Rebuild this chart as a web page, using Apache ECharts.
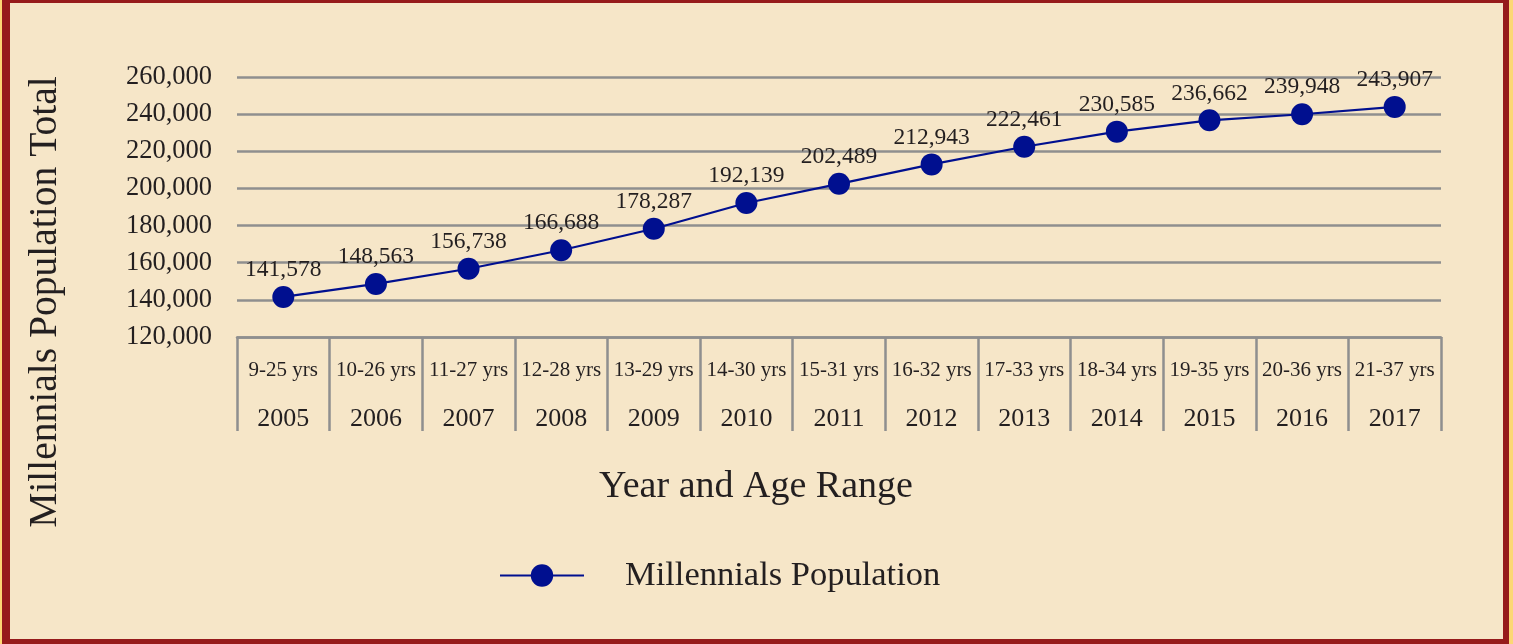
<!DOCTYPE html>
<html>
<head>
<meta charset="utf-8">
<script src="https://cdn.jsdelivr.net/npm/echarts@6/dist/echarts.min.js"></script>
<style>
html,body{margin:0;padding:0;width:1513px;height:644px;overflow:hidden;background:#fcd774;}
#frame{position:absolute;left:2px;top:0;width:1507px;height:644px;box-sizing:border-box;
  border-style:solid;border-color:#961b1b;border-width:3px 6px 5px 8px;background:#f6e6c8;}
#chart{position:absolute;left:0;top:0;width:1513px;height:644px;}
</style>
</head>
<body>
<div id="frame"></div>
<div id="chart"></div>
<script>
var years = ['2005','2006','2007','2008','2009','2010','2011','2012','2013','2014','2015','2016','2017'];
var ageRanges = ['9-25 yrs','10-26 yrs','11-27 yrs','12-28 yrs','13-29 yrs','14-30 yrs','15-31 yrs','16-32 yrs','17-33 yrs','18-34 yrs','19-35 yrs','20-36 yrs','21-37 yrs'];
var population = [141578,148563,156738,166688,178287,192139,202489,212943,222461,230585,236662,239948,243907];
var yTicks = {min:120000, max:260000, interval:20000};

var FONT = '"Liberation Serif", "DejaVu Serif", serif';
var TXT = '#231f20';
var GRAY = '#8f8f8f';
var BLUE = '#000f8f';

var categories = years.map(function(y,i){ return ageRanges[i] + '|' + y; });

var chart = echarts.init(document.getElementById('chart'));
chart.setOption({
  backgroundColor: 'transparent',
  textStyle: {fontFamily: FONT},
  grid: {left: 237, right: 72, top: 77, bottom: 307, containLabel: false, outerBoundsMode: 'none'},
  xAxis: {
    type: 'category',
    data: categories,
    boundaryGap: true,
    name: 'Year and Age Range',
    nameLocation: 'middle',
    nameGap: 131,
    nameTextStyle: {fontFamily: FONT, fontSize: 38, color: TXT, padding: [0, 166, 0, 0]},
    axisLine: {show: true, lineStyle: {color: GRAY, width: 2.5}},
    axisTick: {show: true, interval: 0, length: 94, lineStyle: {color: GRAY, width: 2.5}},
    axisLabel: {
      interval: 0,
      margin: 22,
      formatter: function(v){ var p = v.split('|'); return '{a|' + p[0] + '}\n{b|' + p[1] + '}'; },
      rich: {
        a: {fontFamily: FONT, fontSize: 21, color: TXT, lineHeight: 22},
        b: {fontFamily: FONT, fontSize: 26, color: TXT, lineHeight: 76}
      }
    },
    splitLine: {show: false}
  },
  yAxis: {
    type: 'value',
    min: yTicks.min, max: yTicks.max, interval: yTicks.interval,
    name: 'Millennials Population Total',
    nameLocation: 'middle',
    nameGap: 171,
    nameRotate: 90,
    nameTextStyle: {fontFamily: FONT, fontSize: 39.5, color: TXT, padding: [0, 190, 0, 0]},
    axisLine: {show: false},
    axisTick: {show: false},
    axisLabel: {
      margin: 25, fontFamily: FONT, fontSize: 26.5, color: TXT,
      formatter: function(v){ return v.toLocaleString('en-US'); }
    },
    splitLine: {show: true, lineStyle: {color: GRAY, width: 2.5}}
  },
  legend: {
    show: true,
    left: 494, top: 553,
    itemWidth: 84, itemHeight: 28,
    textStyle: {fontFamily: FONT, fontSize: 34.5, color: TXT, padding: [0,0,0,36]},
    data: ['Millennials Population']
  },
  series: [{
    name: 'Millennials Population',
    type: 'line',
    data: population,
    symbol: 'circle',
    symbolSize: 22,
    itemStyle: {color: BLUE},
    lineStyle: {color: BLUE, width: 2.2},
    label: {
      show: true, position: 'top', distance: 4,
      fontFamily: FONT, fontSize: 23.5, color: TXT,
      formatter: function(p){ return p.value.toLocaleString('en-US'); }
    },
    animation: false
  }],
  animation: false
});
</script>
</body>
</html>
